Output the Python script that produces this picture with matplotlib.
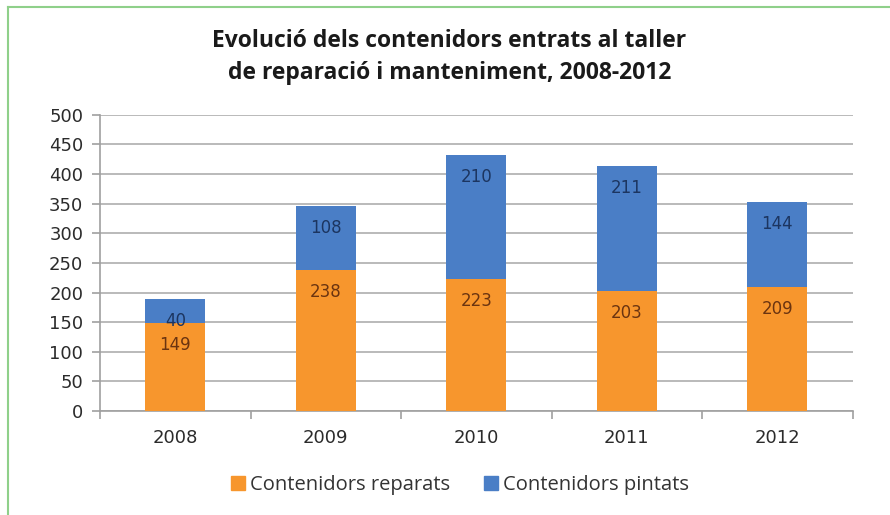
import matplotlib
matplotlib.use("Agg")
from matplotlib import pyplot as plt
from matplotlib.lines import Line2D
import numpy as np

years = ['2008', '2009', '2010', '2011', '2012']
reparats = [149, 238, 223, 203, 209]
pintats = [40, 108, 210, 211, 144]
series_names = ['Contenidors reparats', 'Contenidors pintats']
title = "Evolució dels contenidors entrats al taller\nde reparació i manteniment, 2008-2012"

orange = '#f7962d'
blue = '#4a7ec6'

plt.rcParams['font.family'] = ['DejaVu Sans']

fig = plt.figure(figsize=(8.9, 5.15), dpi=100)
ax = fig.add_axes([0.1124, 0.202, 0.8456, 0.575])

x = np.arange(len(years))
b1 = ax.bar(x, reparats, width=0.4, color=orange, zorder=3)
b2 = ax.bar(x, pintats, width=0.4, bottom=reparats, color=blue, zorder=3)

# labels near the top inside each segment
for rects, vals, col in [(b1, reparats, '#6b3410'), (b2, pintats, '#1c3560')]:
    for r, v in zip(rects, vals):
        ax.annotate(str(v), (r.get_x() + r.get_width() / 2, r.get_y() + r.get_height()),
                    xytext=(0, -16), textcoords='offset points',
                    ha='center', va='center', fontsize=12, color=col, zorder=4)

ax.set_xlim(-0.5, len(years) - 0.5)
ax.set_ylim(0, 500)
ax.set_yticks(np.arange(0, 501, 50))
ax.yaxis.grid(True, color='#b4b4b4', linewidth=1.3, zorder=0)
ax.set_axisbelow(True)

for s in ['top', 'right']:
    ax.spines[s].set_visible(False)
ax.spines['left'].set_color('#a0a0a0')
ax.spines['bottom'].set_color('#a0a0a0')
ax.spines['left'].set_linewidth(1.2)
ax.spines['bottom'].set_linewidth(1.2)

ax.set_xticks(x)
ax.set_xticklabels(years)
ax.set_xticks(np.arange(-0.5, len(years), 1), minor=True)
ax.tick_params(axis='x', which='major', length=0, pad=13, labelsize=13, labelcolor='#2b2b2b')
ax.tick_params(axis='x', which='minor', length=6, color='#a0a0a0', width=1.2)
ax.tick_params(axis='y', length=6, color='#a0a0a0', width=1.2, pad=6, labelsize=13,
               labelcolor='#2b2b2b')

fig.text(0.505, 0.889, title, ha='center', va='center', fontsize=16.5,
         fontweight='bold', color='#1a1a1a', linespacing=1.45, family='Open Sans')

handles = [Line2D([], [], marker='s', linestyle='none', markersize=10, color=orange),
           Line2D([], [], marker='s', linestyle='none', markersize=10, color=blue)]
fig.legend(handles, series_names, loc='center', bbox_to_anchor=(0.514, 0.058), ncol=2,
           frameon=False, handletextpad=0.0, handlelength=1.2, columnspacing=1.4,
           labelcolor='#333333', prop={'family': 'Open Sans', 'size': 14.5})

# green frame on top and left
fig.add_artist(Line2D([8 / 890, 1], [1 - 7 / 515, 1 - 7 / 515], transform=fig.transFigure,
                      color='#8fd08a', linewidth=1.5))
fig.add_artist(Line2D([8 / 890, 8 / 890], [0, 1 - 7 / 515], transform=fig.transFigure,
                      color='#8fd08a', linewidth=1.5))

fig.savefig('out.png', dpi=100)
